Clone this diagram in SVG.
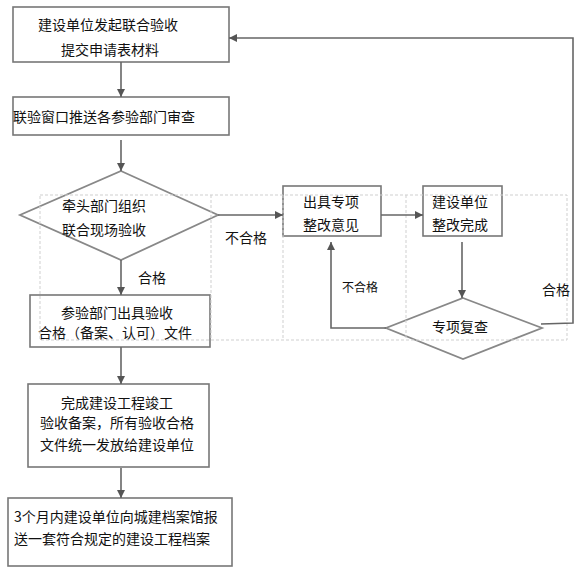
<svg xmlns="http://www.w3.org/2000/svg" width="581" height="576" viewBox="0 0 581 576">
<defs>
<marker id="ah" viewBox="0 0 10 10" refX="10" refY="5" markerWidth="5" markerHeight="5" orient="auto" markerUnits="strokeWidth">
<path d="M0,0 L10,5 L0,10 z" fill="#555"/>
</marker>
<style>
.box{fill:#fff;stroke:#777;stroke-width:1.6}
.dia{fill:#fff;stroke:#888;stroke-width:1.8}
.t{font-family:"Noto Sans CJK SC","Liberation Sans",sans-serif;font-size:14px;fill:#111}
.s{font-family:"Noto Sans CJK SC","Liberation Sans",sans-serif;font-size:12px;fill:#111}
.c{fill:none;stroke:#666;stroke-width:1.6}
.g{fill:none;stroke:#cfcfcf;stroke-width:1;stroke-dasharray:3,2}
</style>
</defs>
<rect width="581" height="576" fill="#fff"/>
<g id="n1">
<rect class="box" x="13" y="7" width="216" height="55"/>
<text class="t" x="108" y="30" text-anchor="middle">建设单位发起联合验收</text>
<text class="t" x="110" y="55" text-anchor="middle">提交申请表材料</text>
</g>
<g id="n2">
<rect class="box" x="13" y="97" width="216" height="38"/>
<text class="t" x="13" y="122">联验窗口推送各参验部门审查</text>
</g>
<g id="n3">
<polygon class="dia" points="121,171 218,215 121,260 20,215"/>
<text class="t" x="62" y="211">牵头部门组织</text>
<text class="t" x="62" y="235">联合现场验收</text>
</g>
<g id="n4">
<rect class="box" x="30" y="295" width="180" height="52"/>
<text class="t" x="117" y="318" text-anchor="middle">参验部门出具验收</text>
<text class="t" x="115" y="338" text-anchor="middle">合格（备案、认可）文件</text>
</g>
<g id="n5">
<rect class="box" x="283" y="186" width="98" height="50"/>
<text class="t" x="331" y="207" text-anchor="middle">出具专项</text>
<text class="t" x="331" y="230" text-anchor="middle">整改意见</text>
</g>
<g id="n6">
<rect class="box" x="423" y="186" width="79" height="50"/>
<text class="t" x="432" y="207">建设单位</text>
<text class="t" x="432" y="230">整改完成</text>
</g>
<g id="n7">
<polygon class="dia" points="463,298 542,328 463,359 386,328"/>
<text class="t" x="460" y="332" text-anchor="middle">专项复查</text>
</g>
<g id="n8">
<rect class="box" x="28" y="384" width="181" height="83"/>
<text class="t" x="117" y="408" text-anchor="middle">完成建设工程竣工</text>
<text class="t" x="40" y="428">验收备案，所有验收合格</text>
<text class="t" x="40" y="450">文件统一发放给建设单位</text>
</g>
<g id="n9">
<rect class="box" x="8" y="498" width="224" height="68"/>
<text class="t" x="14" y="522">3个月内建设单位向城建档案馆报</text>
<text class="t" x="14" y="544">送一套符合规定的建设工程档案</text>
</g>
<g id="grid">
<rect class="g" x="40" y="195" width="527" height="145"/>
<line class="g" x1="211" y1="195" x2="211" y2="340"/>
<line class="g" x1="283" y1="195" x2="283" y2="340"/>
<line class="g" x1="406" y1="195" x2="406" y2="340"/>
</g>
<g id="connectors">
<line class="c" x1="121" y1="62" x2="121" y2="97" marker-end="url(#ah)"/>
<line class="c" x1="121" y1="140" x2="121" y2="171" marker-end="url(#ah)"/>
<line class="c" x1="121" y1="260" x2="121" y2="295" marker-end="url(#ah)"/>
<line class="c" x1="218" y1="215" x2="283" y2="215" marker-end="url(#ah)"/>
<line class="c" x1="381" y1="215" x2="423" y2="215" marker-end="url(#ah)"/>
<line class="c" x1="462" y1="242" x2="462" y2="298" marker-end="url(#ah)"/>
<polyline class="c" points="386,328 331,328 331,242" marker-end="url(#ah)"/>
<polyline class="c" points="541,324 573,323 573,38 229,38" marker-end="url(#ah)"/>
<line class="c" x1="121" y1="347" x2="121" y2="384" marker-end="url(#ah)"/>
<line class="c" x1="121" y1="468" x2="121" y2="498" marker-end="url(#ah)"/>
<text class="t" x="138" y="283">合格</text>
<text class="t" x="225" y="243">不合格</text>
<text class="s" x="342" y="292">不合格</text>
<text class="t" x="542" y="295">合格</text>
</g>
</svg>
